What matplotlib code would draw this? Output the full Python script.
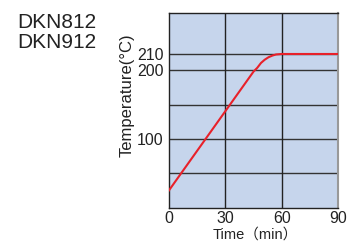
import numpy as np
import matplotlib.pyplot as plt

plt.rcParams['font.family'] = ['Liberation Sans', 'DejaVu Sans', 'Noto Sans CJK JP']

# data
time_min = [0, 45, 47, 49, 51, 53, 55, 57, 60, 90]
temp_c = [25, 198, 201.5, 204.5, 206.5, 208, 209, 209.7, 210, 210]
xticks = [0, 30, 60, 90]
yticks = [100, 200, 210]
ygrid = [50, 100, 150, 200, 210]
models = ["DKN812", "DKN912"]

# the chart stretches the band above 200 degC
stretch = 2.37


def fwd(y):
	y = np.asarray(y, dtype=float)
	return np.where(y <= 200, y, 200 + (y - 200) * stretch)


def inv(y):
	y = np.asarray(y, dtype=float)
	return np.where(y <= 200, y, 200 + (y - 200) / stretch)


fig = plt.figure(figsize=(3.6, 2.41), dpi=100)
ax = fig.add_axes([169 / 360, 1 - 207.5 / 241, 169 / 360, 194.5 / 241])
ax.set_facecolor("#c6d5ec")
ax.set_yscale("function", functions=(fwd, inv))
ax.set_xlim(0, 90)
ax.set_ylim(0, 235.2)

for g in ygrid:
	ax.axhline(g, color="#333333", lw=1.0, zorder=1)
for g in xticks[1:-1]:
	ax.axvline(g, color="#222222", lw=1.0, zorder=1)

ax.plot(time_min, temp_c, color="#e8212a", lw=1.5, zorder=3)

ax.set_xticks(xticks)
ax.set_yticks(yticks)
ax.set_yticklabels([str(t) for t in yticks])
ax.minorticks_off()
ax.tick_params(length=0, labelsize=11.5, colors="#222222", pad=4)
ax.tick_params(axis="x", pad=2.5)
for s in ["top", "left", "bottom"]:
	ax.spines[s].set_color("#222222")
	ax.spines[s].set_linewidth(1.0)
ax.spines["right"].set_color("#999999")
ax.spines["right"].set_linewidth(1.5)

fig.text(127 / 360, 1 - 95 / 241, "Temperature(°C)", fontsize=12, color="#222222",
	rotation=90, ha="center", va="center")
fig.text(255 / 360, 1 - 238.5 / 241, "Time（min）", fontsize=10.5, color="#222222",
	ha="center", va="baseline")

fig.text(17 / 360, 1 - 22 / 241, models[0], fontsize=15, color="#222222", va="center")
fig.text(17 / 360, 1 - 43 / 241, models[1], fontsize=15, color="#222222", va="center")

fig.savefig("out.png", dpi=100)
